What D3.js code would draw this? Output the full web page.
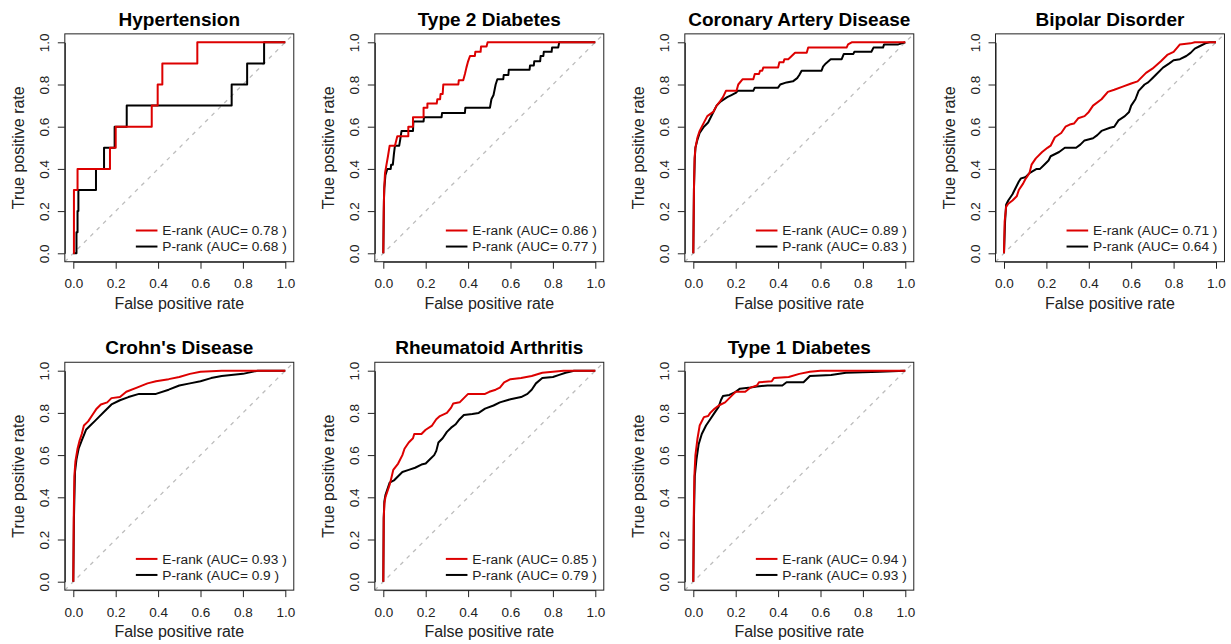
<!DOCTYPE html>
<html><head><meta charset="utf-8">
<script src="https://cdn.jsdelivr.net/npm/d3@7"></script>
<style>body{margin:0;background:#fff}svg{display:block}text{font-family:"Liberation Sans",Arial,sans-serif}</style>
</head><body><svg id="c" width="1231" height="644"></svg>
<script>
// ---- data ----
const titles = ["Hypertension","Type 2 Diabetes","Coronary Artery Disease","Bipolar Disorder","Crohn's Disease","Rheumatoid Arthritis","Type 1 Diabetes"];
const aucE = ["0.78","0.86","0.89","0.71","0.93","0.85","0.94"];
const aucP = ["0.68","0.77","0.83","0.64","0.9","0.79","0.93"];
const tickVals = [0,0.2,0.4,0.6,0.8,1.0];

const htnE = [[0,0],[0.003,0],[0.003,0.3],[0.02,0.3],[0.02,0.4],[0.173,0.4],[0.173,0.5],[0.2,0.5],[0.2,0.6],[0.37,0.6],[0.37,0.7],[0.398,0.7],[0.398,0.8],[0.42,0.8],[0.42,0.9],[0.585,0.9],[0.585,1],[1,1]];
const htnP = [[0,0],[0.015,0],[0.015,0.1],[0.02,0.1],[0.02,0.2],[0.024,0.2],[0.024,0.3],[0.107,0.3],[0.107,0.4],[0.145,0.4],[0.145,0.5],[0.195,0.5],[0.195,0.6],[0.252,0.6],[0.252,0.7],[0.747,0.7],[0.747,0.8],[0.82,0.8],[0.82,0.9],[0.9,0.9],[0.9,1],[1,1]];

const t2dE = [[0,0],[0.002,0.2],[0.004,0.3],[0.008,0.38],[0.015,0.42],[0.022,0.46],[0.03,0.51],[0.055,0.51],[0.066,0.555],[0.118,0.555],[0.118,0.6],[0.14,0.6],[0.14,0.645],[0.19,0.645],[0.19,0.69],[0.208,0.69],[0.208,0.71],[0.252,0.71],[0.255,0.73],[0.268,0.73],[0.27,0.755],[0.28,0.755],[0.283,0.8],[0.354,0.8],[0.356,0.82],[0.377,0.82],[0.385,0.85],[0.392,0.88],[0.4,0.91],[0.409,0.935],[0.432,0.935],[0.434,0.955],[0.459,0.955],[0.461,0.98],[0.487,0.98],[0.492,1],[1,1]];
const t2dP = [[0,0],[0.003,0.25],[0.005,0.31],[0.01,0.37],[0.019,0.4],[0.035,0.4],[0.037,0.42],[0.045,0.42],[0.05,0.47],[0.055,0.51],[0.075,0.51],[0.08,0.54],[0.086,0.58],[0.14,0.58],[0.142,0.625],[0.19,0.625],[0.192,0.645],[0.275,0.645],[0.277,0.665],[0.385,0.665],[0.387,0.69],[0.503,0.69],[0.51,0.73],[0.52,0.75],[0.53,0.8],[0.538,0.825],[0.566,0.825],[0.568,0.845],[0.59,0.845],[0.592,0.87],[0.69,0.87],[0.692,0.89],[0.71,0.89],[0.712,0.91],[0.74,0.91],[0.742,0.935],[0.755,0.935],[0.757,0.955],[0.794,0.955],[0.796,0.975],[0.825,0.975],[0.83,1],[1,1]];

const cadE = [[0,0],[0.003,0.3],[0.006,0.45],[0.01,0.5],[0.02,0.55],[0.03,0.58],[0.045,0.61],[0.066,0.65],[0.094,0.67],[0.11,0.7],[0.126,0.72],[0.14,0.74],[0.154,0.77],[0.204,0.77],[0.212,0.8],[0.233,0.825],[0.283,0.825],[0.29,0.85],[0.31,0.85],[0.315,0.865],[0.325,0.865],[0.33,0.88],[0.4,0.88],[0.406,0.905],[0.425,0.905],[0.43,0.92],[0.448,0.92],[0.48,0.95],[0.535,0.95],[0.542,0.975],[0.723,0.975],[0.73,0.99],[0.747,1],[1,1]];
const cadP = [[0,0],[0.003,0.3],[0.007,0.45],[0.01,0.5],[0.02,0.54],[0.03,0.57],[0.05,0.6],[0.07,0.62],[0.09,0.66],[0.11,0.7],[0.13,0.72],[0.16,0.74],[0.18,0.75],[0.2,0.76],[0.21,0.77],[0.283,0.77],[0.29,0.785],[0.4,0.785],[0.41,0.8],[0.44,0.81],[0.47,0.815],[0.49,0.83],[0.5,0.845],[0.511,0.865],[0.605,0.865],[0.612,0.885],[0.625,0.9],[0.648,0.92],[0.7,0.92],[0.71,0.945],[0.755,0.945],[0.76,0.955],[0.84,0.955],[0.85,0.975],[0.895,0.975],[0.9,0.99],[0.967,0.99],[1,1]];

const bpdE = [[0,0],[0.003,0.15],[0.01,0.22],[0.02,0.235],[0.04,0.25],[0.06,0.27],[0.07,0.3],[0.09,0.33],[0.1,0.35],[0.12,0.38],[0.13,0.42],[0.15,0.45],[0.18,0.48],[0.205,0.5],[0.22,0.51],[0.24,0.55],[0.27,0.57],[0.29,0.6],[0.31,0.61],[0.33,0.615],[0.35,0.64],[0.38,0.65],[0.4,0.67],[0.42,0.7],[0.46,0.73],[0.49,0.765],[0.52,0.775],[0.56,0.79],[0.6,0.805],[0.63,0.815],[0.67,0.855],[0.7,0.875],[0.74,0.91],[0.77,0.94],[0.8,0.955],[0.83,0.99],[0.88,0.995],[0.9,1],[1,1]];
const bpdP = [[0,0],[0.005,0.15],[0.01,0.23],[0.02,0.25],[0.04,0.28],[0.05,0.3],[0.07,0.34],[0.08,0.355],[0.1,0.36],[0.12,0.38],[0.154,0.4],[0.17,0.4],[0.19,0.42],[0.21,0.44],[0.22,0.46],[0.26,0.48],[0.287,0.5],[0.34,0.5],[0.36,0.515],[0.38,0.535],[0.42,0.545],[0.44,0.56],[0.46,0.58],[0.5,0.595],[0.52,0.6],[0.54,0.63],[0.57,0.65],[0.59,0.67],[0.6,0.7],[0.62,0.73],[0.635,0.77],[0.663,0.8],[0.68,0.81],[0.7,0.83],[0.72,0.85],[0.75,0.88],[0.78,0.9],[0.8,0.915],[0.83,0.92],[0.86,0.935],[0.88,0.95],[0.9,0.97],[0.92,0.98],[0.95,0.995],[0.97,1],[1,1]];

const cdE = [[0,0],[0.002,0.3],[0.005,0.5],[0.01,0.57],[0.02,0.63],[0.03,0.67],[0.04,0.7],[0.05,0.74],[0.07,0.76],[0.09,0.79],[0.11,0.82],[0.13,0.84],[0.16,0.85],[0.18,0.87],[0.22,0.875],[0.25,0.9],[0.3,0.92],[0.35,0.94],[0.39,0.95],[0.45,0.96],[0.5,0.97],[0.55,0.985],[0.6,0.995],[0.7,1],[1,1]];
const cdP = [[0,0],[0.003,0.3],[0.008,0.52],[0.015,0.58],[0.025,0.63],[0.04,0.67],[0.06,0.72],[0.08,0.74],[0.1,0.76],[0.12,0.78],[0.15,0.81],[0.18,0.84],[0.22,0.86],[0.26,0.875],[0.31,0.89],[0.39,0.89],[0.45,0.91],[0.5,0.93],[0.55,0.94],[0.6,0.95],[0.65,0.965],[0.7,0.975],[0.8,0.985],[0.87,1],[1,1]];

const raE = [[0,0],[0.002,0.3],[0.005,0.37],[0.01,0.4],[0.02,0.43],[0.03,0.46],[0.04,0.5],[0.047,0.53],[0.07,0.56],[0.09,0.6],[0.1,0.63],[0.12,0.66],[0.14,0.68],[0.146,0.7],[0.18,0.7],[0.2,0.72],[0.23,0.74],[0.25,0.77],[0.267,0.785],[0.3,0.8],[0.32,0.825],[0.33,0.845],[0.36,0.85],[0.38,0.87],[0.4,0.89],[0.48,0.89],[0.5,0.9],[0.53,0.91],[0.55,0.92],[0.57,0.945],[0.6,0.96],[0.65,0.965],[0.7,0.975],[0.75,0.99],[0.8,0.995],[0.85,1],[1,1]];
const raP = [[0,0],[0.002,0.3],[0.005,0.38],[0.01,0.41],[0.02,0.44],[0.03,0.47],[0.05,0.48],[0.07,0.5],[0.09,0.52],[0.12,0.53],[0.15,0.54],[0.18,0.555],[0.2,0.56],[0.22,0.58],[0.24,0.6],[0.25,0.62],[0.26,0.66],[0.28,0.68],[0.3,0.71],[0.32,0.73],[0.34,0.745],[0.36,0.77],[0.38,0.79],[0.42,0.795],[0.45,0.8],[0.48,0.82],[0.52,0.835],[0.55,0.85],[0.6,0.865],[0.65,0.875],[0.68,0.89],[0.7,0.91],[0.72,0.94],[0.75,0.965],[0.8,0.97],[0.83,0.98],[0.86,0.99],[0.9,1],[1,1]];

const t1dE = [[0,0],[0.002,0.3],[0.005,0.5],[0.01,0.6],[0.02,0.68],[0.03,0.74],[0.05,0.78],[0.07,0.785],[0.08,0.8],[0.1,0.82],[0.12,0.835],[0.15,0.85],[0.17,0.87],[0.19,0.89],[0.2,0.9],[0.245,0.9],[0.27,0.92],[0.3,0.93],[0.31,0.945],[0.37,0.95],[0.38,0.965],[0.45,0.97],[0.5,0.985],[0.55,0.995],[0.6,1],[1,1]];
const t1dP = [[0,0],[0.003,0.3],[0.007,0.5],[0.015,0.58],[0.025,0.65],[0.04,0.7],[0.06,0.74],[0.08,0.77],[0.1,0.8],[0.12,0.83],[0.13,0.86],[0.14,0.88],[0.17,0.885],[0.2,0.9],[0.22,0.915],[0.27,0.92],[0.3,0.925],[0.35,0.93],[0.42,0.93],[0.44,0.945],[0.52,0.945],[0.55,0.975],[0.65,0.98],[0.72,0.99],[0.88,0.995],[1,1]];

const curvesE = [htnE,t2dE,cadE,bpdE,cdE,raE,t1dE];
const curvesP = [htnP,t2dP,cadP,bpdP,cdP,raP,t1dP];

// ---- layout ----
const colX0 = [73.3,383.3,693.3,1004];
const rowY1 = [42.3,370.7];
const PW = 212, PH = 211;
const RED = "#dd0000";

const svg = d3.select("#c");
const fmt = d3.format(".1f");

titles.forEach((title,i)=>{
  const r = Math.floor(i/4), c = i%4;
  const x = d3.scaleLinear().domain([0,1]).range([colX0[c], colX0[c]+PW]);
  const y = d3.scaleLinear().domain([0,1]).range([rowY1[r]+PH, rowY1[r]]);
  const bx0 = x(-0.04), bx1 = x(1.04), by0 = y(1.04), by1 = y(-0.04);
  const g = svg.append("g");
  const clipId = "clip"+i;
  svg.append("clipPath").attr("id",clipId).append("rect")
    .attr("x",bx0).attr("y",by0).attr("width",bx1-bx0).attr("height",by1-by0);

  // diagonal
  g.append("line").attr("clip-path",`url(#${clipId})`)
    .attr("x1",x(-0.04)).attr("y1",y(-0.04)).attr("x2",x(1.04)).attr("y2",y(1.04))
    .attr("stroke","#bdbdbd").attr("stroke-width",1.3).attr("stroke-dasharray","4,5");

  const line = d3.line().x(d=>x(d[0])).y(d=>y(d[1]));
  g.append("path").datum(curvesP[i]).attr("d",line).attr("fill","none")
    .attr("stroke","#000").attr("stroke-width",2).attr("stroke-linejoin","round");
  g.append("path").datum(curvesE[i]).attr("d",line).attr("fill","none")
    .attr("stroke",RED).attr("stroke-width",2).attr("stroke-linejoin","round");

  // box
  g.append("rect").attr("x",bx0).attr("y",by0).attr("width",bx1-bx0).attr("height",by1-by0)
    .attr("fill","none").attr("stroke","#222").attr("stroke-width",1);

  // x axis
  const xa = g.append("g").attr("transform",`translate(0,${by1})`)
    .call(d3.axisBottom(x).tickValues(tickVals).tickFormat(fmt).tickSize(7).tickSizeOuter(0).tickPadding(10));
  xa.select(".domain").attr("stroke","#222");
  xa.selectAll(".tick line").attr("stroke","#222");
  xa.selectAll("text").attr("font-size",13.5).attr("fill","#222").attr("font-family","Liberation Sans, Arial, sans-serif");

  // y axis
  const ya = g.append("g").attr("transform",`translate(${bx0},0)`)
    .call(d3.axisLeft(y).tickValues(tickVals).tickFormat(fmt).tickSize(7).tickSizeOuter(0));
  ya.select(".domain").attr("stroke","#222");
  ya.selectAll(".tick line").attr("stroke","#222");
  ya.selectAll("text").attr("transform","rotate(-90)").attr("x",0).attr("y",-16).attr("dy",0)
    .attr("text-anchor","middle").attr("font-size",13.5).attr("fill","#222").attr("font-family","Liberation Sans, Arial, sans-serif");

  // labels
  g.append("text").attr("x",(x(0)+x(1))/2).attr("y",by1+47).attr("text-anchor","middle")
    .attr("font-size",16).attr("fill","#222").text("False positive rate");
  g.append("text").attr("transform",`translate(${bx0-41},${(y(0)+y(1))/2}) rotate(-90)`)
    .attr("text-anchor","middle").attr("font-size",16).attr("fill","#222").text("True positive rate");
  g.append("text").attr("x",(x(0)+x(1))/2).attr("y",by0-8).attr("text-anchor","middle")
    .attr("font-size",19).attr("font-weight","bold").attr("fill","#000").text(title);

  // legend
  const leg = [{lab:`E-rank (AUC= ${aucE[i]} )`,col:RED,yv:0.108},{lab:`P-rank (AUC= ${aucP[i]} )`,col:"#000",yv:0.032}];
  leg.forEach(l=>{
    g.append("line").attr("x1",x(0.295)).attr("x2",x(0.397)).attr("y1",y(l.yv)).attr("y2",y(l.yv))
      .attr("stroke",l.col).attr("stroke-width",2);
    g.append("text").attr("x",x(0.42)).attr("y",y(l.yv)).attr("dy","0.35em")
      .attr("font-size",13.7).attr("fill","#222").text(l.lab);
  });
});
</script></body></html>
